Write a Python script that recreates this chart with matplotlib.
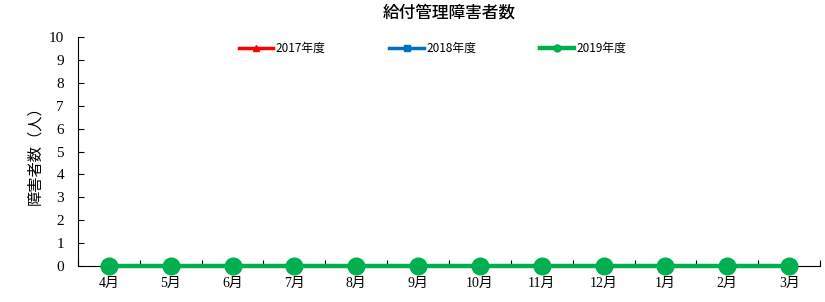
import matplotlib.pyplot as plt
import numpy as np

plt.rcParams['font.family'] = ['Noto Sans CJK JP', 'DejaVu Sans']

MONTHS = ["4月", "5月", "6月", "7月", "8月", "9月", "10月", "11月", "12月", "1月", "2月", "3月"]
Y2017 = [0, 0, 0, 0, 0, 0, 0, 0, 0, 0, 0, 0]
Y2018 = [0, 0, 0, 0, 0, 0, 0, 0, 0, 0, 0, 0]
Y2019 = [0, 0, 0, 0, 0, 0, 0, 0, 0, 0, 0, 0]
SERIF = ['Liberation Serif', 'Noto Sans CJK JP']

fig = plt.figure(figsize=(8.25, 3.02), dpi=100)
ax = fig.add_axes([0.0945, 0.119, 0.8995, 0.7585])
x = np.arange(len(MONTHS))

ax.plot(x, Y2017, color="#ff0000", lw=2.5, marker="^", ms=6, label="2017年度")
ax.plot(x, Y2018, color="#0070c0", lw=2.5, marker="s", ms=6, label="2018年度")
ax.plot(x, Y2019, color="#00b050", lw=3.2, marker="o", ms=12, label="2019年度",
        clip_on=False, zorder=5)

ax.set_xlim(-0.5, len(MONTHS) - 0.5)
ax.set_ylim(0, 10)
ax.set_yticks(range(0, 11))
ax.set_yticklabels([str(v) for v in range(0, 11)], family=SERIF, fontsize=11)
ax.set_xticks(x)
ax.set_xticklabels(MONTHS, family=SERIF, fontsize=10)
ax.tick_params(axis="x", which="major", length=0, pad=8)
ax.set_xticks(np.arange(-0.5, len(MONTHS)), minor=True)
ax.tick_params(axis="x", which="minor", direction="in", length=4, width=0.8)
ax.tick_params(axis="y", direction="in", length=4, width=0.8, pad=10)

for s in ["top", "right"]:
    ax.spines[s].set_visible(False)
for s in ["left", "bottom"]:
    ax.spines[s].set_linewidth(0.8)

ax.set_ylabel("障害者数（人）", fontsize=11, labelpad=4)
ax.set_title("給付管理障害者数", fontsize=12, fontweight="medium", pad=14)

leg = ax.legend(loc="upper center", bbox_to_anchor=(0.478, 1.025), ncol=3, frameon=False,
                fontsize=8.5, handlelength=2.9, columnspacing=5.4, handletextpad=0.2)
for ln in leg.get_lines():
    ln.set_markersize(5)

fig.savefig("out.png", dpi=100)
